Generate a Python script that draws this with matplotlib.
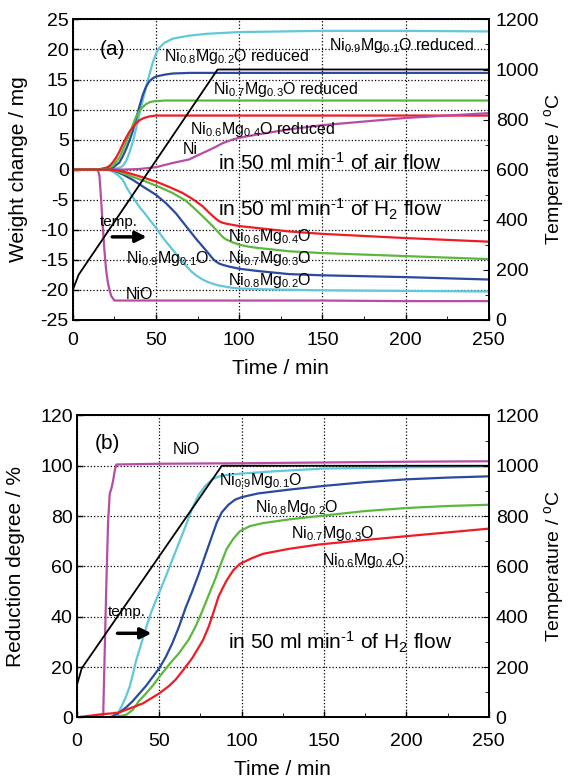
import matplotlib
matplotlib.use("Agg")
import matplotlib.pyplot as plt
from matplotlib.ticker import MultipleLocator

plt.rcParams['font.family'] = ['Liberation Sans', 'DejaVu Sans']
plt.rcParams['mathtext.default'] = 'regular'
plt.rcParams['axes.unicode_minus'] = False

# ---- colours
c_09 = '#5fc8dc'   # Ni0.9Mg0.1O
c_08 = '#2a4aa0'   # Ni0.8Mg0.2O
c_07 = '#5cb83c'   # Ni0.7Mg0.3O
c_06 = '#ee1c24'   # Ni0.6Mg0.4O
c_ni = '#b64ca6'   # NiO / Ni

# ---- (a) temperature programme
temp_time_a = [0, 3.5, 87, 250]
temp_a = [120, 180, 1000, 1000]

# ---- (a) oxidation in air (weight gain, mg)
ox_time_09 = [0, 15, 20, 24, 28, 30, 32, 34, 36, 38, 40, 42, 44, 46, 48, 50, 52, 55, 60, 70, 80, 100, 150, 200, 250]
ox_09 = [0, 0, 0, 0.1, 0.3, 0.6, 1.4, 2.8, 4.6, 6.8, 9.2, 11.5, 13.7, 15.8, 17.8, 19.3, 20.3, 21.1, 21.8, 22.3, 22.6, 22.9, 23.1, 23.1, 23.0]
ox_time_08 = [0, 15, 20, 24, 28, 30, 32, 34, 36, 38, 40, 42, 44, 46, 48, 50, 55, 60, 70, 100, 150, 200, 250]
ox_08 = [0, 0, 0.1, 0.3, 1.2, 2.2, 3.4, 4.8, 6.4, 8.4, 10.5, 12.4, 13.8, 14.7, 15.2, 15.5, 15.8, 16.0, 16.1, 16.1, 16.1, 16.1, 16.1]
ox_time_07 = [0, 15, 20, 24, 28, 30, 32, 34, 36, 38, 40, 42, 44, 46, 48, 50, 55, 100, 150, 200, 250]
ox_07 = [0, 0, 0.2, 0.6, 2.0, 3.2, 4.5, 5.9, 7.4, 8.8, 9.8, 10.4, 10.9, 11.2, 11.35, 11.4, 11.5, 11.5, 11.5, 11.5, 11.5]
ox_time_06 = [0, 15, 20, 22, 24, 26, 28, 30, 32, 34, 36, 38, 40, 42, 44, 46, 50, 100, 150, 200, 250]
ox_06 = [0, 0, 0.3, 0.6, 1.2, 2.0, 3.0, 4.2, 5.3, 6.3, 7.0, 7.7, 8.2, 8.5, 8.7, 8.85, 9.0, 9.0, 9.0, 9.0, 9.0]
ox_time_ni = [0, 15, 20, 30, 40, 50, 60, 70, 76, 80, 86, 90, 96, 100, 110, 130, 150, 175, 200, 225, 250]
ox_ni = [0, 0, 0, 0, 0.1, 0.4, 1.1, 1.7, 2.5, 3.0, 3.8, 4.4, 5.0, 5.3, 5.8, 6.7, 7.4, 8.0, 8.6, 9.0, 9.4]

# ---- (a) reduction in H2 (weight loss, mg)
red_time_ni = [0, 15, 16, 17, 18, 19, 20, 21, 22, 23, 25, 50, 100, 150, 200, 250]
red_ni = [0, 0, -1, -5, -9.5, -13.5, -16.7, -18.7, -20, -21, -21.8, -21.8, -21.8, -21.8, -21.9, -21.9]
red_time_09 = [0, 20, 24, 27, 30, 33, 36, 40, 43, 46, 50, 53, 56, 59, 62, 65, 68, 71, 74, 78, 81, 84, 87, 90, 95, 100, 110, 130, 150, 200, 250]
red_09 = [0, 0, -0.3, -0.9, -1.7, -3.3, -4.6, -6.2, -7.2, -8.3, -9.7, -10.9, -12.0, -13.0, -14.0, -15.0, -16.0, -16.9, -17.6, -18.3, -18.7, -19.0, -19.25, -19.4, -19.65, -19.8, -19.9, -20.0, -20.1, -20.2, -20.3]
red_time_08 = [0, 22, 26, 30, 36, 42, 50, 56, 62, 68, 74, 78, 82, 84, 86, 88, 90, 94, 100, 110, 130, 150, 200, 250]
red_08 = [0, 0, -0.3, -0.8, -1.7, -2.8, -4.2, -5.6, -7.3, -9.4, -11.5, -12.8, -14.1, -14.8, -15.3, -15.65, -15.85, -16.15, -16.5, -16.85, -17.4, -17.6, -17.9, -18.3]
red_time_07 = [0, 22, 26, 30, 37, 44, 52, 60, 68, 74, 80, 84, 88, 90, 92, 95, 100, 105, 110, 130, 150, 200, 250]
red_07 = [0, 0, -0.2, -0.6, -1.3, -2.0, -2.9, -3.9, -5.2, -6.7, -8.3, -9.4, -10.6, -11.2, -11.6, -12.0, -12.5, -12.8, -13.0, -13.6, -13.9, -14.4, -14.9]
red_time_06 = [0, 22, 26, 30, 40, 50, 58, 66, 72, 78, 82, 86, 88, 90, 93, 96, 100, 110, 130, 150, 200, 250]
red_06 = [0, 0, -0.1, -0.3, -1.1, -2.0, -2.9, -3.9, -4.9, -6.1, -7.2, -8.2, -8.6, -8.85, -9.05, -9.2, -9.4, -9.7, -10.3, -10.7, -11.4, -12.0]

# ---- (b) temperature programme
temp_time_b = [0, 3, 88, 250]
temp_b = [127, 195, 1000, 1000]

# ---- (b) reduction degree (%)
rd_time_ni = [0, 15, 16, 17, 18, 19, 20, 21, 22, 23, 24, 50, 100, 150, 200, 250]
rd_ni = [0, 0.3, 0.5, 28, 55, 78, 89, 91, 94, 98, 100.5, 100.8, 101.0, 101.3, 101.6, 101.8]
rd_time_09 = [0, 20, 22, 25, 28, 30, 32, 34, 36, 39, 42, 45, 48, 50, 52, 54, 57, 60, 63, 66, 70, 74, 78, 82, 86, 92, 100, 120, 150, 200, 250]
rd_09 = [0, 0, 0.2, 1.5, 5.5, 8.5, 12, 17, 22.6, 29, 35.5, 41.5, 46.5, 49.5, 52.8, 56, 61, 66, 71, 76, 83, 88.5, 92, 94.5, 95.7, 96.4, 96.9, 97.8, 98.9, 99.4, 99.7]
rd_time_08 = [0, 20, 22, 26, 30, 34, 38, 42, 46, 50, 54, 58, 62, 66, 70, 74, 78, 82, 85, 88, 92, 96, 100, 110, 130, 150, 175, 200, 225, 250]
rd_08 = [0, 0, 0.5, 2, 4, 6.5, 9.5, 12.5, 16, 19.5, 24, 29.5, 36, 43.5, 50, 57, 64.5, 72, 77.5, 81.5, 84.5, 86.5, 87.5, 89, 90.6, 92, 93.5, 94.6, 95.3, 95.8]
rd_time_07 = [0, 22, 26, 30, 34, 38, 42, 46, 50, 56, 62, 68, 72, 76, 80, 84, 88, 91, 95, 99, 105, 113, 129, 147, 175, 200, 225, 250]
rd_07 = [0, 0, 0.5, 1, 3, 6.7, 9.5, 12.5, 16, 21, 25.5, 31, 36, 42, 48.5, 55, 62, 67, 71, 74, 76, 77.2, 78.7, 80, 82, 83.2, 84, 84.5]
rd_time_06 = [0, 10, 16, 22, 26, 30, 34, 40, 45, 50, 56, 60, 64.5, 70, 76.5, 80, 82.6, 86, 89, 91, 95, 99, 106, 113, 129, 147, 175, 200, 225, 250]
rd_06 = [0, 0.8, 1.3, 1.6, 2, 3, 4, 5.5, 7.5, 9.5, 12.5, 15, 18.7, 23.5, 30.6, 36, 41, 48, 52, 54.5, 58.5, 61, 63.2, 65, 67, 68.7, 70.5, 72, 73.5, 75]

lw = 1.6
min_1 = 'min$^{\u2010 1}$'
fig = plt.figure(figsize=(5.69, 7.78), dpi=100)


def style(ax, ax_t, ylim, ystep, xpad):
    ax.set_xlim(0, 250)
    ax.set_ylim(*ylim)
    ax.xaxis.set_major_locator(MultipleLocator(50))
    ax.xaxis.set_minor_locator(MultipleLocator(25))
    ax.yaxis.set_major_locator(MultipleLocator(ystep))
    ax.grid(True, which='major', linestyle=':', color='black', linewidth=0.9)
    ax.tick_params(direction='in', labelsize=14, length=4, width=1)
    ax.tick_params(axis='x', pad=xpad)
    ax.tick_params(axis='y', pad=3)
    ax.tick_params(which='minor', direction='in', length=3)
    ax_t.set_ylim(0, 1200)
    ax_t.yaxis.set_major_locator(MultipleLocator(200))
    ax_t.yaxis.set_minor_locator(MultipleLocator(100))
    ax_t.tick_params(direction='in', labelsize=14, length=4, pad=5)
    ax_t.tick_params(which='minor', direction='in', length=3)
    for a in (ax, ax_t):
        for s in a.spines.values():
            s.set_linewidth(1.3)


# ================= (a)
ax1 = fig.add_axes([0.128, 0.589, 0.731, 0.386])
ax1t = ax1.twinx()
style(ax1, ax1t, (-25, 25), 5, 9)

ax1.plot(ox_time_09, ox_09, color=c_09, lw=lw)
ax1.plot(ox_time_08, ox_08, color=c_08, lw=lw)
ax1.plot(ox_time_07, ox_07, color=c_07, lw=lw)
ax1.plot(ox_time_06, ox_06, color=c_06, lw=lw)
ax1.plot(ox_time_ni, ox_ni, color=c_ni, lw=lw)
ax1.plot(red_time_ni, red_ni, color=c_ni, lw=lw)
ax1.plot(red_time_09, red_09, color=c_09, lw=lw)
ax1.plot(red_time_08, red_08, color=c_08, lw=lw)
ax1.plot(red_time_07, red_07, color=c_07, lw=lw)
ax1.plot(red_time_06, red_06, color=c_06, lw=lw)
ax1t.plot(temp_time_a, temp_a, color='black', lw=1.3)

ax1.set_xlabel('Time / min', fontsize=15)
ax1.set_ylabel('Weight change / mg', fontsize=15)
ax1t.set_ylabel('Temperature / $^{o}$C', fontsize=14)
ax1.xaxis.set_label_coords(0.5, -0.13)
ax1.yaxis.set_label_coords(-0.108, 0.5)
ax1t.yaxis.set_label_coords(1.128, 0.5)

ax1.text(16, 20, '(a)', fontsize=15, ha='left', va='center')
fs = 11.5
ax1.text(55, 18.8, 'Ni$_{0.8}$Mg$_{0.2}$O reduced', fontsize=fs, va='center')
ax1.text(154, 20.6, 'Ni$_{0.9}$Mg$_{0.1}$O reduced', fontsize=fs, va='center')
ax1.text(84, 13.3, 'Ni$_{0.7}$Mg$_{0.3}$O reduced', fontsize=fs, va='center')
ax1.text(70.5, 6.7, 'Ni$_{0.6}$Mg$_{0.4}$O reduced', fontsize=fs, va='center')
ax1.text(66, 3.3, 'Ni', fontsize=fs, va='center')
ax1.text(87, 1.2, 'in 50 ml ' + min_1 + ' of air flow', fontsize=15, va='center')
ax1.text(87, -6.7, 'in 50 ml ' + min_1 + ' of H$_2$ flow', fontsize=15, va='center')
ax1.text(16, -8.8, 'temp.', fontsize=11, va='center')
ax1.annotate('', xy=(46, -11.2), xytext=(22, -11.2),
             arrowprops=dict(arrowstyle='-|>', lw=2.5, color='black', mutation_scale=16))
ax1.text(93, -11.2, 'Ni$_{0.6}$Mg$_{0.4}$O', fontsize=fs, va='center')
ax1.text(93, -14.8, 'Ni$_{0.7}$Mg$_{0.3}$O', fontsize=fs, va='center')
ax1.text(93, -18.5, 'Ni$_{0.8}$Mg$_{0.2}$O', fontsize=fs, va='center')
ax1.text(32, -14.8, 'Ni$_{0.9}$Mg$_{0.1}$O', fontsize=fs, va='center')
ax1.text(32, -20.8, 'NiO', fontsize=fs, va='center')

# ================= (b)
ax2 = fig.add_axes([0.135, 0.078, 0.724, 0.388])
ax2t = ax2.twinx()
style(ax2, ax2t, (0, 120), 20, 11)

ax2.plot(rd_time_ni, rd_ni, color=c_ni, lw=lw)
ax2.plot(rd_time_09, rd_09, color=c_09, lw=lw)
ax2.plot(rd_time_08, rd_08, color=c_08, lw=lw)
ax2.plot(rd_time_07, rd_07, color=c_07, lw=lw)
ax2.plot(rd_time_06, rd_06, color=c_06, lw=lw)
ax2t.plot(temp_time_b, temp_b, color='black', lw=1.3)

ax2.set_xlabel('Time / min', fontsize=15)
ax2.set_ylabel('Reduction degree / %', fontsize=15)
ax2t.set_ylabel('Temperature / $^{o}$C', fontsize=14)
ax2.xaxis.set_label_coords(0.5, -0.14)
ax2.yaxis.set_label_coords(-0.125, 0.5)
ax2t.yaxis.set_label_coords(1.13, 0.5)

ax2.text(11, 109, '(b)', fontsize=15, ha='left', va='center')
ax2.text(58, 106.5, 'NiO', fontsize=fs, va='center')
ax2.text(86, 94, 'Ni$_{0.9}$Mg$_{0.1}$O', fontsize=fs, va='center')
ax2.text(108, 83.5, 'Ni$_{0.8}$Mg$_{0.2}$O', fontsize=fs, va='center')
ax2.text(130, 73, 'Ni$_{0.7}$Mg$_{0.3}$O', fontsize=fs, va='center')
ax2.text(149, 62.5, 'Ni$_{0.6}$Mg$_{0.4}$O', fontsize=fs, va='center')
ax2.text(19, 41.7, 'temp.', fontsize=11, va='center')
ax2.annotate('', xy=(47, 33.4), xytext=(23, 33.4),
             arrowprops=dict(arrowstyle='-|>', lw=2.5, color='black', mutation_scale=16))
ax2.text(92, 29.8, 'in 50 ml ' + min_1 + ' of H$_2$ flow', fontsize=15, va='center')

fig.savefig('out.png', dpi=100)
